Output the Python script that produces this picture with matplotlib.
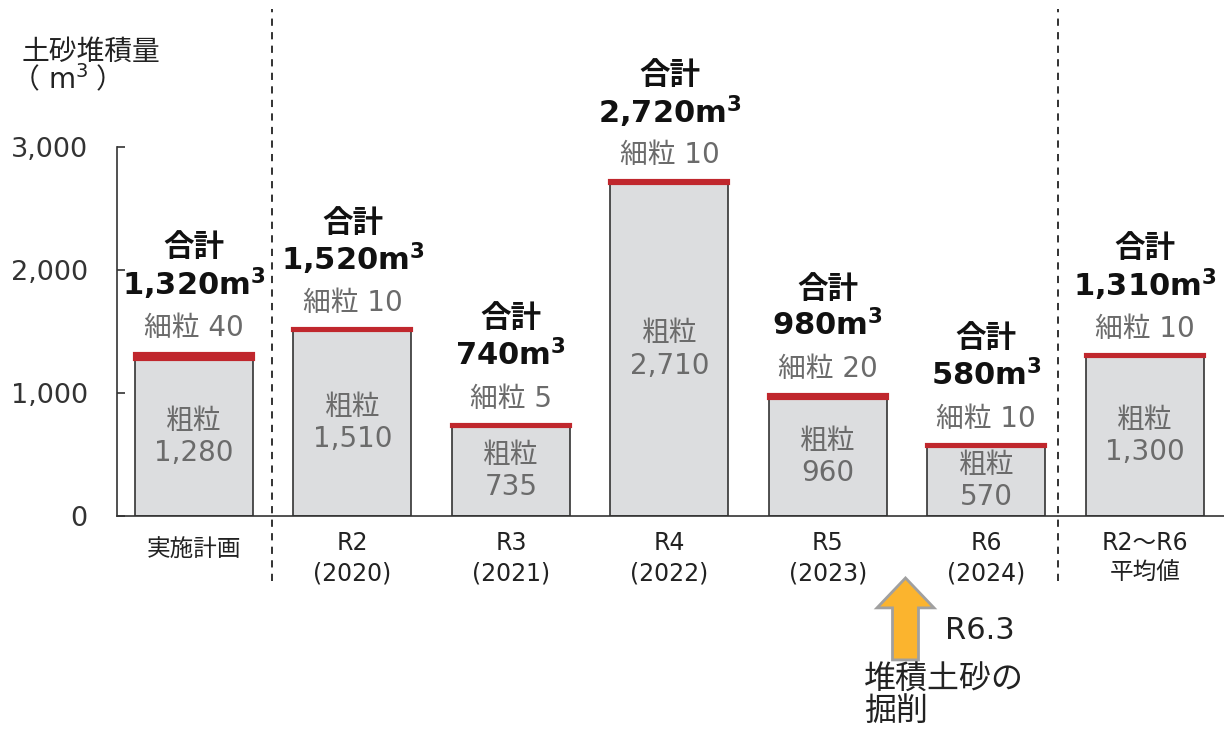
import matplotlib
matplotlib.use('Agg')
import matplotlib.pyplot as plt
from matplotlib.patches import FancyArrow

plt.rcParams['font.family'] = ['DejaVu Sans', 'Noto Sans CJK JP']

# data
categories = ['実施計画', 'R2\n(2020)', 'R3\n(2021)', 'R4\n(2022)', 'R5\n(2023)', 'R6\n(2024)', 'R2～R6\n平均値']
coarse = [1280, 1510, 735, 2710, 960, 570, 1300]
fine = [40, 10, 5, 10, 20, 10, 10]
total = [1320, 1520, 740, 2720, 980, 580, 1310]
yticks = [0, 1000, 2000, 3000]

grey_fill = '#dcdddf'
red = '#c0272d'
grey_text = '#6b6b6b'

fig = plt.figure(figsize=(12.24, 7.34), dpi=100)
ax = fig.add_axes([117/1224, 1-516/734, 1-117/1224, 369/734])

x = range(len(categories))
ax.bar(x, coarse, width=0.745, color=grey_fill, edgecolor='#333333', linewidth=1.2, zorder=2)
ax.bar(x, fine, bottom=coarse, width=0.745, color=red, edgecolor=red, linewidth=3, zorder=3)

for i in x:
    # coarse label inside bar
    ax.text(i, coarse[i]/2, '粗粒\n' + f'{coarse[i]:,}', ha='center', va='center',
            fontsize=20, color=grey_text, linespacing=1.2, zorder=4)
    # fine label
    ax.annotate(f'細粒 {fine[i]}', (i, total[i]), xytext=(0, 26), textcoords='offset pixels',
                ha='center', va='center', fontsize=20, color=grey_text, annotation_clip=False)
    ax.annotate(f'{total[i]:,}' + r'$\mathbf{m^3}$', (i, total[i]), xytext=(0, 70),
                textcoords='offset pixels', ha='center', va='center', fontsize=22,
                fontweight='bold', color='#111111', annotation_clip=False)
    ax.annotate('合計', (i, total[i]), xytext=(0, 106), textcoords='offset pixels',
                ha='center', va='center', fontsize=22, fontweight='bold', color='#111111',
                annotation_clip=False)
    ylab = -0.04 if '\n' in categories[i] else -0.058
    ax.text(i, ylab, categories[i], transform=ax.get_xaxis_transform(), ha='center', va='top',
            fontsize=17, color='#222222', linespacing=1.35)

ax.set_xlim(-0.486, 6.5)
ax.set_ylim(0, 3000)
ax.set_yticks(yticks)
ax.set_yticklabels([f'{v:,}' for v in yticks], fontsize=19.5, color='#333333')
ax.tick_params(axis='y', direction='in', length=6, width=1.2, pad=21, color='#333333')
ax.set_xticks([])
for s in ['top', 'right']:
    ax.spines[s].set_visible(False)
for s in ['left', 'bottom']:
    ax.spines[s].set_linewidth(1.2)
    ax.spines[s].set_color('#333333')

# dashed separators
tr = ax.get_xaxis_transform()
for xd in [0.492, 5.45]:
    ax.plot([xd, xd], [-0.175, 1.375], transform=tr, color='#222222', lw=1.3,
            ls=(0, (4, 3.5)), clip_on=False, zorder=1)

# axis title
fig.text(91/1224, 1-52/734, '土砂堆積量', ha='center', va='center', fontsize=20, color='#222222')
fig.text(26/1224, 1-80/734, '（', ha='center', va='center', fontsize=20, color='#222222')
fig.text(68/1224, 1-80/734, 'm$^3$', ha='center', va='center', fontsize=20, color='#222222')
fig.text(110/1224, 1-80/734, '）', ha='center', va='center', fontsize=20, color='#222222')

# arrow
arrow = FancyArrow(4.49, -0.39, 0, 0.222, width=0.164, head_width=0.36, head_length=0.081,
                   length_includes_head=True, transform=tr, facecolor='#fbb42e',
                   edgecolor='#a0a0a0', linewidth=2, clip_on=False, zorder=5)
ax.add_patch(arrow)
ax.text(4.74, -0.309, 'R6.3', transform=tr, ha='left', va='center', fontsize=22, color='#222222')
ax.text(4.23, -0.40, '堆積土砂の\n掘削', transform=tr, ha='left', va='top', fontsize=23,
        color='#222222', linespacing=1.05)

fig.savefig('out.png', dpi=100)
